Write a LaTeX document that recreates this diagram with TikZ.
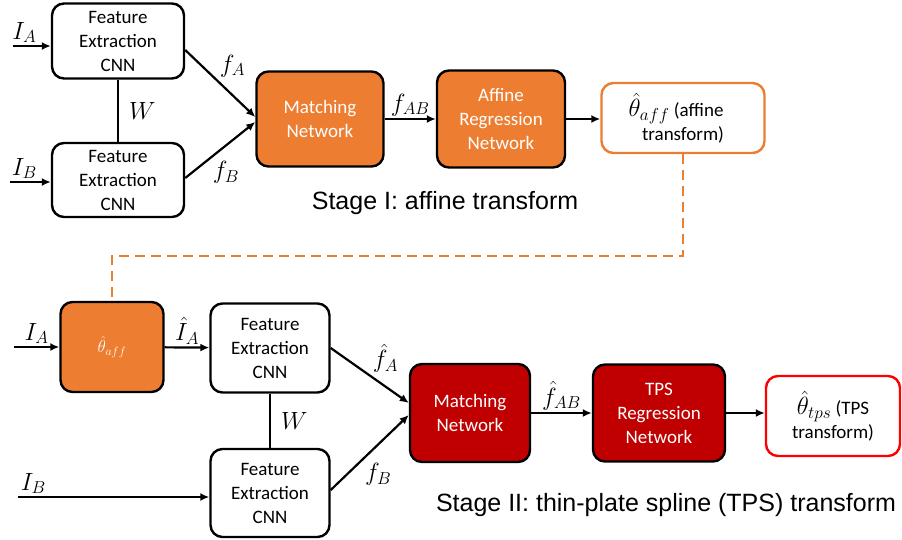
\documentclass[tikz,border=0pt]{standalone}
\usepackage{fontspec}
\newfontfamily\boxfont{Carlito}
\newfontfamily\stagefont{Liberation Sans}
\usetikzlibrary{arrows.meta}
\definecolor{stageone}{HTML}{ED7D31}
\definecolor{stagetwo}{HTML}{C00000}
\definecolor{tpsred}{HTML}{FF0000}

\begin{document}
\begin{tikzpicture}[x=1pt, y=-1pt, line width=2.2pt,
  box/.style={draw, rounded corners=12pt, line width=2.4pt, align=center, inner sep=0pt, font=\boxfont\fontsize{19}{24}\selectfont},
  orangebox/.style={box, fill=stageone, text=white},
  redbox/.style={box, fill=stagetwo, text=white},
  lab/.style={font=\fontsize{24}{26}\selectfont, inner sep=2pt},
  arr/.style={-{Latex[length=9pt,width=8pt]}, line width=2.2pt}]
\useasboundingbox (0,0) rectangle (902,539);

\node[box, minimum width=132pt, minimum height=75pt] (feA) at (118,41) {Feature\\Extraction\\CNN};
\node[box, minimum width=132pt, minimum height=74pt] (feB) at (118,180) {Feature\\Extraction\\CNN};
\node[orangebox, minimum width=127pt, minimum height=95pt] (match) at (320,119) {Matching\\Network};
\node[orangebox, minimum width=128pt, minimum height=97pt] (affreg) at (501,119) {Affine\\Regression\\Network};
\node[box, draw=stageone, minimum width=163pt, minimum height=70pt] (thaff) at (683,118) {\hspace*{-14pt}{\fontsize{24}{24}\selectfont$\hat{\theta}_{aff}$} (affine\\transform)};
\node[font=\stagefont\fontsize{25}{30}\selectfont] (stage1) at (445,203) {Stage I: affine transform};

\coordinate (inA) at (13,46);
\coordinate (inB) at (10,182);
\draw[arr] (inA) -- node[lab, above, pos=.3]{$I_A$} (inA -| feA.west);
\draw[arr] (inB) -- node[lab, above, pos=.35]{$I_B$} (inB -| feB.west);
\draw (feA) -- node[lab, right=8pt]{$W$} (feB);
\draw[arr] ([yshift=-9pt]feA.east) -- node[lab, above right, pos=.45]{$f_A$} ([yshift=2pt]match.west);
\draw[arr] ([yshift=2pt]feB.east) -- node[lab, below right, pos=.35]{$f_B$} ([yshift=-3pt]match.west);
\draw[arr] (match) -- node[lab, above]{$f_{AB}$} (affreg);
\draw[arr] (affreg) -- (affreg -| thaff.west);

\node[orangebox, minimum width=103pt, minimum height=90pt] (thaff2) at (112,347) {{\fontsize{17}{17}\selectfont$\hat{\theta}_{aff}$}};
\node[box, minimum width=119pt, minimum height=89pt] (feA2) at (270,348) {Feature\\Extraction\\CNN};
\node[box, minimum width=119pt, minimum height=88pt] (feB2) at (270,493) {Feature\\Extraction\\CNN};
\node[redbox, minimum width=120pt, minimum height=98pt] (match2) at (470,413) {Matching\\Network};
\node[redbox, minimum width=132pt, minimum height=97pt] (tpsreg) at (659,413) {TPS\\Regression\\Network};
\node[box, draw=tpsred, minimum width=134pt, minimum height=80pt] (thtps) at (833,416) {{\fontsize{24}{24}\selectfont$\hat{\theta}_{tps}$} (TPS\\transform)};
\node[font=\stagefont\fontsize{25}{30}\selectfont] (stage2) at (666,505) {Stage II: thin-plate spline (TPS) transform};

\draw[stageone, dash pattern=on 10pt off 6pt] (thaff.south) -- (thaff.south |- 0,256) -| (thaff2.north);

\coordinate (inA2) at (14,347);
\coordinate (inB2) at (18,497);
\draw[arr] (inA2) -- node[lab, above]{$I_A$} (thaff2);
\draw[arr] (thaff2) -- node[lab, above]{$\hat{I}_A$} (feA2);
\draw (feA2) -- node[lab, right=8pt]{$W$} (feB2);
\draw[arr] (inB2) -- node[lab, above, pos=.08]{$I_B$} (inB2 -| feB2.west);
\draw[arr] (feA2.east) -- node[lab, above right, pos=.5]{$\hat{f}_A$} ([yshift=10pt]match2.west);
\draw[arr] ([yshift=3pt]feB2.east) -- node[lab, below right, pos=.4]{$f_B$} ([yshift=-2pt]match2.west);
\draw[arr] (match2) -- node[lab, above]{$\hat{f}_{AB}$} (tpsreg);
\draw[arr] (tpsreg) -- (tpsreg -| thtps.west);
\end{tikzpicture}
\end{document}
